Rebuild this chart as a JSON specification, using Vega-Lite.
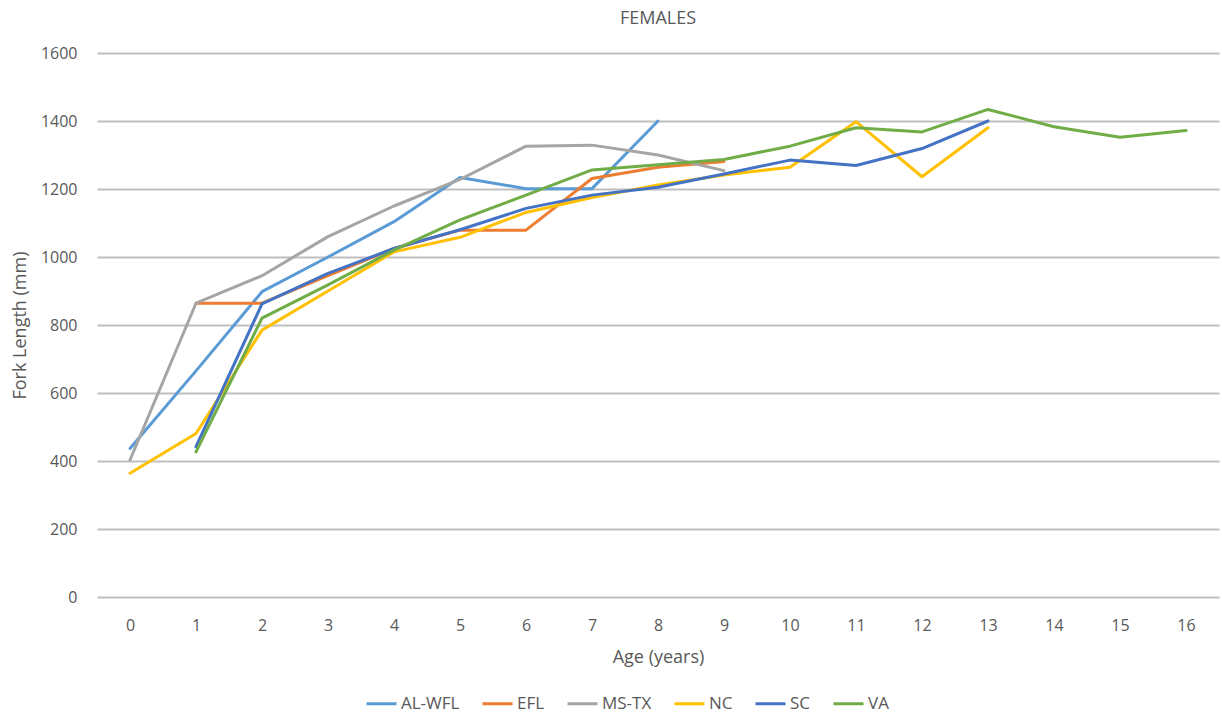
{
  "$schema": "https://vega.github.io/schema/vega-lite/v6.json",
  "width": 1122,
  "height": 544,
  "autosize": "none",
  "padding": {"left": 97, "top": 53, "right": 3, "bottom": 120},
  "background": "white",
  "title": {"text": "FEMALES", "font": "Open Sans", "fontSize": 18, "fontWeight": "normal", "color": "#595959", "offset": 17, "anchor": "middle"},
  "config": {
    "view": {"stroke": null},
    "axis": {"labelFont": "Open Sans", "titleFont": "Open Sans", "labelColor": "#595959", "titleColor": "#595959", "labelFontSize": 16, "titleFontSize": 18, "titleFontWeight": "normal", "ticks": false, "domain": false},
    "legend": {"labelFont": "Open Sans", "labelFontSize": 17, "labelColor": "#595959"}
  },
  "data": {"values": [
    {"age": 0, "site": "AL-WFL", "fl": 437},
    {"age": 1, "site": "AL-WFL", "fl": 665},
    {"age": 2, "site": "AL-WFL", "fl": 898},
    {"age": 3, "site": "AL-WFL", "fl": 1000},
    {"age": 4, "site": "AL-WFL", "fl": 1104},
    {"age": 5, "site": "AL-WFL", "fl": 1234},
    {"age": 6, "site": "AL-WFL", "fl": 1201},
    {"age": 7, "site": "AL-WFL", "fl": 1201},
    {"age": 8, "site": "AL-WFL", "fl": 1400},
    {"age": 1, "site": "EFL", "fl": 864},
    {"age": 2, "site": "EFL", "fl": 864},
    {"age": 3, "site": "EFL", "fl": 945},
    {"age": 4, "site": "EFL", "fl": 1025},
    {"age": 5, "site": "EFL", "fl": 1079},
    {"age": 6, "site": "EFL", "fl": 1079},
    {"age": 7, "site": "EFL", "fl": 1231},
    {"age": 8, "site": "EFL", "fl": 1264},
    {"age": 9, "site": "EFL", "fl": 1281},
    {"age": 0, "site": "MS-TX", "fl": 403},
    {"age": 1, "site": "MS-TX", "fl": 864},
    {"age": 2, "site": "MS-TX", "fl": 945},
    {"age": 3, "site": "MS-TX", "fl": 1060},
    {"age": 4, "site": "MS-TX", "fl": 1150},
    {"age": 5, "site": "MS-TX", "fl": 1228},
    {"age": 6, "site": "MS-TX", "fl": 1326},
    {"age": 7, "site": "MS-TX", "fl": 1329},
    {"age": 8, "site": "MS-TX", "fl": 1300},
    {"age": 9, "site": "MS-TX", "fl": 1254},
    {"age": 0, "site": "NC", "fl": 364},
    {"age": 1, "site": "NC", "fl": 481},
    {"age": 2, "site": "NC", "fl": 785},
    {"age": 3, "site": "NC", "fl": 900},
    {"age": 4, "site": "NC", "fl": 1015},
    {"age": 5, "site": "NC", "fl": 1058},
    {"age": 6, "site": "NC", "fl": 1131},
    {"age": 7, "site": "NC", "fl": 1175},
    {"age": 8, "site": "NC", "fl": 1212},
    {"age": 9, "site": "NC", "fl": 1241},
    {"age": 10, "site": "NC", "fl": 1264},
    {"age": 11, "site": "NC", "fl": 1398},
    {"age": 12, "site": "NC", "fl": 1236},
    {"age": 13, "site": "NC", "fl": 1380},
    {"age": 1, "site": "SC", "fl": 442},
    {"age": 2, "site": "SC", "fl": 862},
    {"age": 3, "site": "SC", "fl": 952},
    {"age": 4, "site": "SC", "fl": 1025},
    {"age": 5, "site": "SC", "fl": 1080},
    {"age": 6, "site": "SC", "fl": 1143},
    {"age": 7, "site": "SC", "fl": 1182},
    {"age": 8, "site": "SC", "fl": 1205},
    {"age": 9, "site": "SC", "fl": 1244},
    {"age": 10, "site": "SC", "fl": 1285},
    {"age": 11, "site": "SC", "fl": 1269},
    {"age": 12, "site": "SC", "fl": 1319},
    {"age": 13, "site": "SC", "fl": 1400},
    {"age": 1, "site": "VA", "fl": 427},
    {"age": 2, "site": "VA", "fl": 820},
    {"age": 3, "site": "VA", "fl": 918},
    {"age": 4, "site": "VA", "fl": 1020},
    {"age": 5, "site": "VA", "fl": 1109},
    {"age": 6, "site": "VA", "fl": 1182},
    {"age": 7, "site": "VA", "fl": 1256},
    {"age": 8, "site": "VA", "fl": 1271},
    {"age": 9, "site": "VA", "fl": 1287},
    {"age": 10, "site": "VA", "fl": 1326},
    {"age": 11, "site": "VA", "fl": 1380},
    {"age": 12, "site": "VA", "fl": 1368},
    {"age": 13, "site": "VA", "fl": 1434},
    {"age": 14, "site": "VA", "fl": 1383},
    {"age": 15, "site": "VA", "fl": 1352},
    {"age": 16, "site": "VA", "fl": 1372}
  ]},
  "mark": {"type": "line", "strokeWidth": 3, "strokeCap": "round", "strokeJoin": "round"},
  "encoding": {
    "x": {
      "field": "age", "type": "ordinal",
      "scale": {"domain": [0,1,2,3,4,5,6,7,8,9,10,11,12,13,14,15,16], "padding": 0.5},
      "axis": {"title": "Age (years)", "labelAngle": 0, "labelPadding": 20, "titlePadding": 15, "grid": false}
    },
    "y": {
      "field": "fl", "type": "quantitative",
      "scale": {"domain": [0, 1600], "nice": false},
      "axis": {"title": "Fork Length (mm)", "format": "d", "values": [0,200,400,600,800,1000,1200,1400,1600], "labelPadding": 20, "titlePadding": 11, "grid": true, "gridColor": "#BFBFBF", "gridWidth": 2}
    },
    "color": {
      "field": "site", "type": "nominal",
      "scale": {"domain": ["AL-WFL", "EFL", "MS-TX", "NC", "SC", "VA"], "range": ["#5B9BD5", "#ED7D31", "#A5A5A5", "#FFC000", "#4472C4", "#70AD47"]},
      "legend": {"title": null, "orient": "none", "direction": "horizontal", "legendX": 268, "legendY": 634, "symbolType": "stroke", "symbolSize": 900, "symbolStrokeWidth": 3, "labelOffset": 3, "columnPadding": 16}
    }
  }
}
